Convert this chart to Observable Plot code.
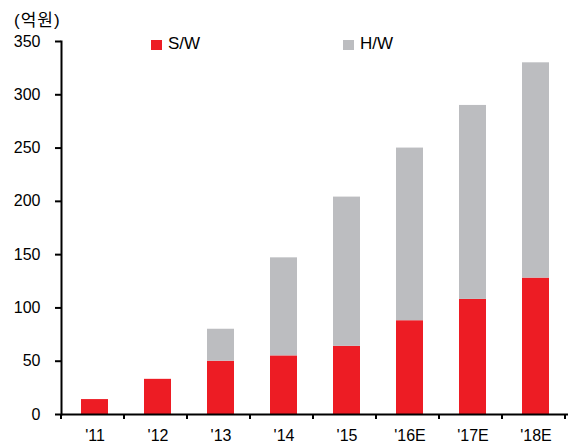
<!DOCTYPE html>
<html><head><meta charset="utf-8">
<script src="https://cdn.jsdelivr.net/npm/d3@7"></script>
<script src="https://cdn.jsdelivr.net/npm/@observablehq/plot@0.6"></script>
<style>
body{margin:0;background:#fff;}
#wrap{position:relative;width:571px;height:446px;font-family:"Liberation Sans","Noto Sans CJK KR",sans-serif;color:#000;}
#wrap svg{position:absolute;left:0;top:0;}
.unit{position:absolute;left:14px;top:12px;font-size:17px;line-height:17px;letter-spacing:1px;}
.leg{position:absolute;top:35px;font-size:17px;line-height:17px;display:flex;align-items:center;}
.sq{display:inline-block;width:11px;height:10px;margin-right:6px;position:relative;top:1px;}
</style></head><body><div id="wrap"></div>
<script>
const years = ["'11","'12","'13","'14","'15","'16E","'17E","'18E"];
const swValues = [14, 33, 50, 55, 64, 88, 108, 128];
const hwValues = [0, 0, 30, 92, 140, 162, 182, 202];
const seriesNames = ["S/W","H/W"];
const yTicks = [0,50,100,150,200,250,300,350];
const unitLabel = "(억원)";
const colors = ["#ED1C24","#BCBDC0"];
const legendLeft = [151, 343];

const rows = years.flatMap((y,i)=>[
  {year:y, series:seriesNames[0], value:swValues[i]},
  {year:y, series:seriesNames[1], value:hwValues[i]}
]);

const font = '"Liberation Sans", "Noto Sans CJK KR", sans-serif';
const plot = Plot.plot({
  width:571, height:446, marginLeft:61, marginRight:3, marginTop:41, marginBottom:32,
  style:{fontFamily:font, fontSize:"16px", color:"#000", background:"#fff"},
  x:{domain:years, paddingInner:0.575, paddingOuter:0.2875, label:null},
  y:{domain:[0,350], label:null},
  color:{domain:seriesNames, range:colors},
  marks:[
    Plot.barY(rows,{x:"year", y:"value", fill:"series", order:seriesNames}),
    Plot.axisY({ticks:yTicks, tickSize:6, tickPadding:15, strokeWidth:2, label:null}),
    Plot.axisX({tickSize:0, tickPadding:15, label:null}),
    Plot.ruleY([0],{stroke:"#000", strokeWidth:2}),
    Plot.frame({anchor:"left", stroke:"#000", strokeWidth:2})
  ]
});
const wrap = document.getElementById("wrap");
wrap.appendChild(plot);

// band boundary ticks on the x axis
const xs = plot.scale("x"), ys = plot.scale("y");
const y0 = ys.apply(0);
const g = d3.select(plot).append("g").attr("stroke","#000").attr("stroke-width",2);
for (let i=0;i<=years.length;i++){
  const x = xs.range[0] + i*xs.step;
  g.append("line").attr("x1",x).attr("x2",x).attr("y1",y0).attr("y2",y0+5);
}

const u = document.createElement("div");
u.className="unit"; u.textContent=unitLabel; wrap.appendChild(u);
seriesNames.forEach((s,i)=>{
  const d=document.createElement("div");
  d.className="leg"; d.style.left=legendLeft[i]+"px";
  d.innerHTML=`<span class="sq" style="background:${colors[i]}"></span>${s}`;
  wrap.appendChild(d);
});
</script></body></html>
